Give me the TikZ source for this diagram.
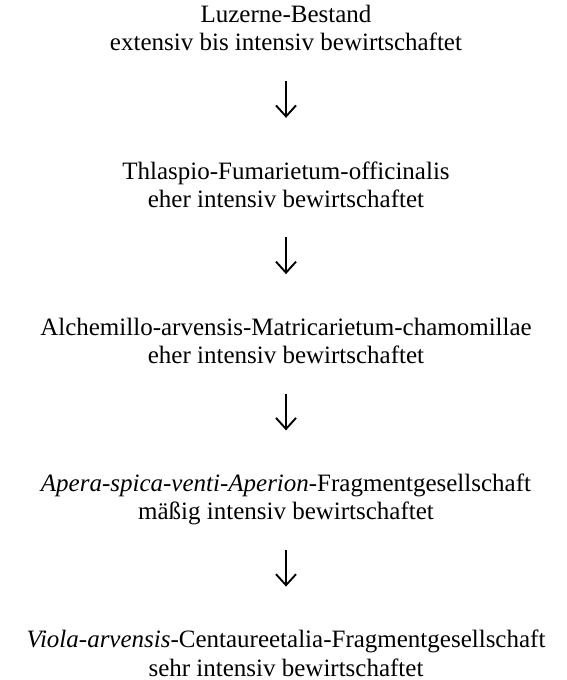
\documentclass[tikz,border=0pt]{standalone}
\usepackage{fontspec}
\setmainfont{Liberation Serif}
\usetikzlibrary{arrows.meta}
\begin{document}
\begin{tikzpicture}[x=1pt,y=1pt,
  stage/.style={align=center,inner sep=0pt,font=\fontsize{25}{28}\selectfont},
  flow/.style={line width=1.8pt,-{Straight Barb[length=11pt,width=20pt,line width=1.9pt]},
    shorten <=21.6pt,shorten >=41.6pt}]
\useasboundingbox (0,0) rectangle (566,680);
\node[stage] (s1) at (286,680-31.4) {\strut Luzerne-Bestand\\\strut extensiv bis intensiv bewirtschaftet};
\node[stage] (s2) at (286,680-187.65) {\strut Thlaspio-Fumarietum-officinalis\\\strut eher intensiv bewirtschaftet};
\node[stage] (s3) at (286,680-343.9) {\strut Alchemillo-arvensis-Matricarietum-chamomillae\\\strut eher intensiv bewirtschaftet};
\node[stage] (s4) at (286,680-500.15) {\strut\textit{Apera-spica-venti-Aperion}-Fragmentgesellschaft\\\strut mäßig intensiv bewirtschaftet};
\node[stage] (s5) at (286,680-656.4) {\strut\textit{Viola-arvensis}-Centaureetalia-Fragmentgesellschaft\\\strut sehr intensiv bewirtschaftet};
\draw[flow] (s1.south) -- (s2.north);
\draw[flow] (s2.south) -- (s3.north);
\draw[flow] (s3.south) -- (s4.north);
\draw[flow] (s4.south) -- (s5.north);
\end{tikzpicture}
\end{document}
